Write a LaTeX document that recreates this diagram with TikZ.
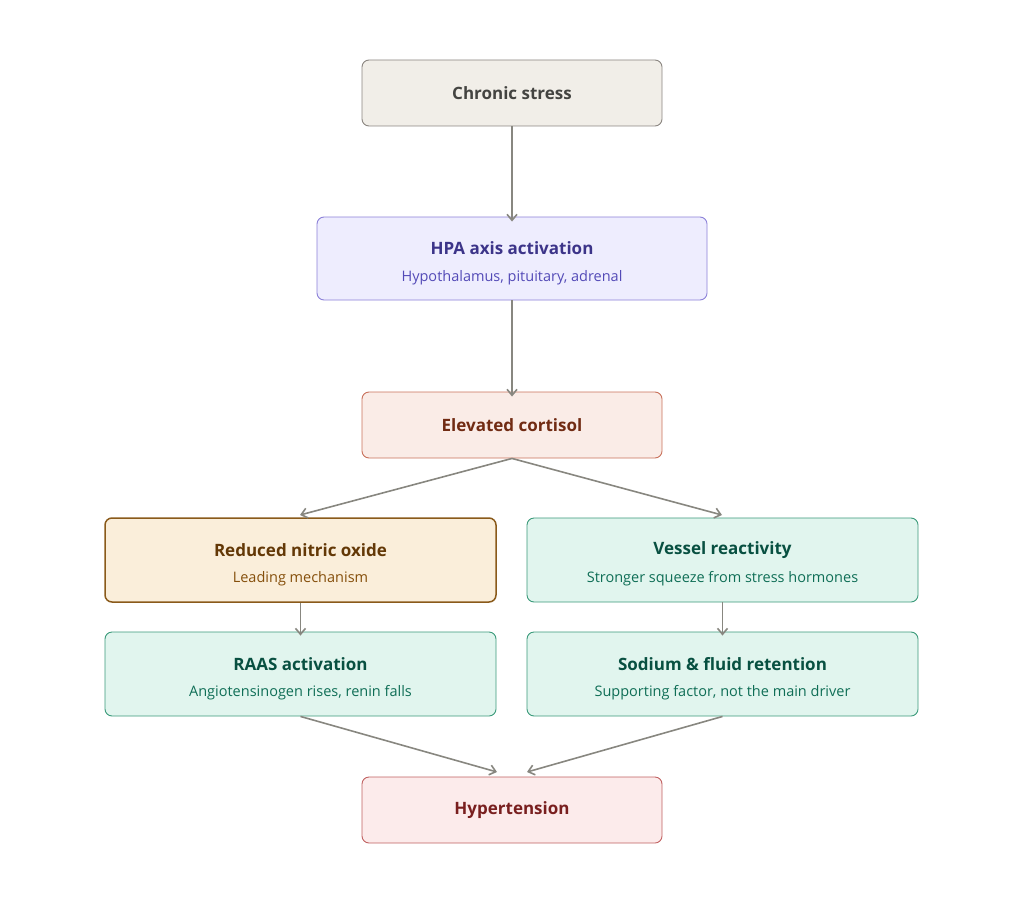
\documentclass[tikz,border=0pt]{standalone}
\usepackage{fontspec}
\setmainfont{Open Sans}
\usetikzlibrary{arrows.meta}
\definecolor{gF}{HTML}{F1EEE8}\definecolor{gD}{HTML}{8A8580}\definecolor{gT}{HTML}{444441}
\definecolor{pF}{HTML}{EEEDFE}\definecolor{pD}{HTML}{8B80D8}\definecolor{pT}{HTML}{3C3489}\definecolor{pS}{HTML}{534AB7}
\definecolor{cF}{HTML}{FAECE7}\definecolor{cD}{HTML}{C8705A}\definecolor{cT}{HTML}{712B13}
\definecolor{aF}{HTML}{FAEEDA}\definecolor{aD}{HTML}{8A5A1A}\definecolor{aT}{HTML}{633806}\definecolor{aS}{HTML}{854F0B}
\definecolor{tF}{HTML}{E1F5EE}\definecolor{tD}{HTML}{3A9A7A}\definecolor{tT}{HTML}{085041}\definecolor{tS}{HTML}{0F6E56}
\definecolor{rF}{HTML}{FCEBEB}\definecolor{rD}{HTML}{C06060}\definecolor{rT}{HTML}{791F1F}
\definecolor{arr}{HTML}{888780}
\begin{document}
\begin{tikzpicture}[x=1pt,y=-1pt,
box/.style={draw,rounded corners=7pt,line width=0.9pt,align=center,inner sep=0pt},
t/.style={font=\fontsize{17}{20}\selectfont\bfseries},
s/.style={font=\fontsize{14.5}{17}\selectfont},
ar/.style={draw=arr,line width=1.6pt,-{Straight Barb[length=6pt,width=10pt]}}]
\path[use as bounding box] (0,0) rectangle (1024,904);
\node[box,fill=gF,draw=gD,minimum width=300,minimum height=66] (cs) at (512,93) {};
\node[t,text=gT] at (cs) {Chronic stress};
\node[box,fill=pF,draw=pD,minimum width=390,minimum height=83] (hpa) at (512,258.5) {};
\node[t,text=pT] at (512,248) {HPA axis activation};
\node[s,text=pS] at (512,278) {Hypothalamus, pituitary, adrenal};
\node[box,fill=cF,draw=cD,minimum width=300,minimum height=66] (co) at (512,425) {};
\node[t,text=cT] at (co) {Elevated cortisol};
\node[box,fill=aF,draw=aD,line width=1.5pt,minimum width=391,minimum height=84] (no) at (300.5,560) {};
\node[t,text=aT] at (300.5,550) {Reduced nitric oxide};
\node[s,text=aS] at (300.5,579) {Leading mechanism};
\node[box,fill=tF,draw=tD,minimum width=391,minimum height=84] (vr) at (722.5,560) {};
\node[t,text=tT] at (722.5,550) {Vessel reactivity};
\node[s,text=tS] at (722.5,579) {Stronger squeeze from stress hormones};
\node[box,fill=tF,draw=tD,minimum width=391,minimum height=84] (ra) at (300.5,674) {};
\node[t,text=tT] at (300.5,664) {RAAS activation};
\node[s,text=tS] at (300.5,693) {Angiotensinogen rises, renin falls};
\node[box,fill=tF,draw=tD,minimum width=391,minimum height=84] (so) at (722.5,674) {};
\node[t,text=tT] at (722.5,664) {Sodium \& fluid retention};
\node[s,text=tS] at (722.5,693) {Supporting factor, not the main driver};
\node[box,fill=rF,draw=rD,minimum width=300,minimum height=66] (hy) at (512,810) {};
\node[t,text=rT] at (hy) {Hypertension};
\coordinate (e1) at (300,515); \coordinate (e2) at (722,515);
\coordinate (h1) at (497,772); \coordinate (h2) at (527,772);
\draw[ar] (cs.south) -- ([yshift=-5]hpa.north);
\draw[ar] (hpa.south) -- ([yshift=-5]co.north);
\draw[ar] (co.south) -- (e1);
\draw[ar] (co.south) -- (e2);
\draw[ar] (no.south) -- ([yshift=-4]ra.north);
\draw[ar] (vr.south) -- ([yshift=-4]so.north);
\draw[ar] (ra.south) -- (h1);
\draw[ar] (so.south) -- (h2);
\end{tikzpicture}
\end{document}
